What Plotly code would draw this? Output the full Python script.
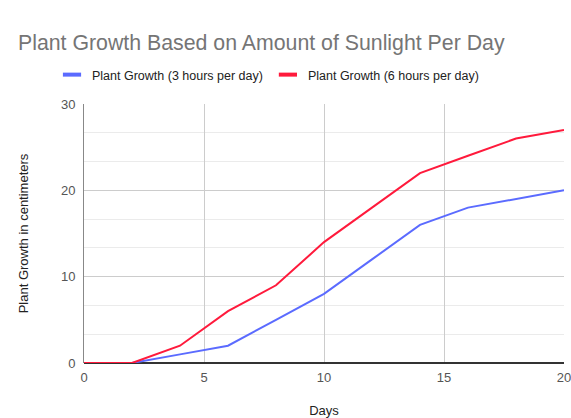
import plotly.graph_objects as go

days = [0, 2, 4, 6, 8, 10, 12, 14, 16, 18, 20]
growth_3h = [0, 0, 1, 2, 5, 8, 12, 16, 18, 19, 20]
growth_6h = [0, 0, 2, 6, 9, 14, 18, 22, 24, 26, 27]

noms = ["Plant Growth (3 hours per day)", "Plant Growth (6 hours per day)"]
couleurs = ["#5b6bff", "#ff1a3c"]

fig = go.Figure()
for nom, ys, c in zip(noms, [growth_3h, growth_6h], couleurs):
    fig.add_trace(go.Scatter(x=days, y=ys, mode="lines", line=dict(color=c, width=2),
                             showlegend=False, name=nom))
    # entrée de légende avec un petit trait épais comme dans Google Charts
    fig.add_trace(go.Scatter(x=[None], y=[None], mode="markers", name=nom,
                             marker=dict(symbol="line-ew", size=13, line=dict(color=c, width=4))))

fig.update_layout(
    width=571, height=418,
    margin=dict(l=84, r=7, t=104, b=55),
    paper_bgcolor="white", plot_bgcolor="white",
    font=dict(family="Liberation Sans, Arial", size=13, color="#555555"),
    title=dict(text="Plant Growth Based on Amount of Sunlight Per Day",
               x=18 / 571, xref="container", xanchor="left",
               y=1 - 43 / 418, yref="container", yanchor="middle",
               font=dict(size=21.3, color="#757575")),
    legend=dict(orientation="h", xref="container", yref="container",
                x=52 / 571, xanchor="left", y=1 - 75 / 418, yanchor="middle",
                font=dict(size=12.5, color="#222222"), itemwidth=30),
    xaxis=dict(range=[0, 20], dtick=5, tick0=0, showgrid=True, gridcolor="#cccccc",
               zeroline=False, showline=False, ticks="", automargin=False,
               ticklabelstandoff=5, ticklabeloverflow="allow",
               title=dict(text="Days", font=dict(size=13, color="#222222"), standoff=27)),
    yaxis=dict(range=[0, 30], dtick=10, tick0=0, showgrid=True, gridcolor="#cccccc",
               zeroline=True, zerolinecolor="#333333", zerolinewidth=2,
               showline=True, linecolor="#888888", linewidth=1, ticks="", automargin=False,
               ticklabelstandoff=5,
               minor=dict(dtick=10 / 3, tick0=0, showgrid=True, gridcolor="#ebebeb"),
               title=dict(text="Plant Growth in centimeters", font=dict(size=13, color="#222222"),
                          standoff=29)),
)

# pas de marge autour du graphique dans la page
fig.write_html("out.html", config={"displayModeBar": False},
               post_script="document.body.style.margin='0px';")
